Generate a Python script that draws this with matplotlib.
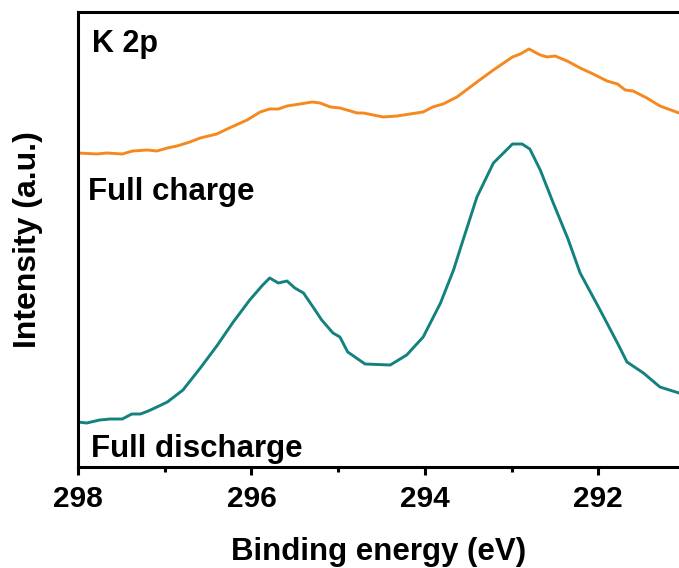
import matplotlib.pyplot as plt

plt.rcParams['font.family'] = ['Liberation Sans', 'DejaVu Sans']
plt.rcParams['font.weight'] = 'bold'

# 数据 (读自图片, 任意单位)
be_charge = [298.00, 297.78, 297.67, 297.49, 297.37, 297.20, 297.09, 296.97, 296.86, 296.71,
             296.59, 296.40, 296.28, 296.05, 295.90, 295.79, 295.69, 295.59, 295.44, 295.30,
             295.21, 295.09, 294.98, 294.78, 294.71, 294.48, 294.32, 294.02, 293.91, 293.79,
             293.63, 293.40, 293.21, 292.99, 292.90, 292.80, 292.67, 292.59, 292.50, 292.36,
             292.21, 292.06, 291.90, 291.78, 291.69, 291.60, 291.44, 291.29, 291.07]
int_charge = [314, 313, 314, 313, 316, 317, 316, 319, 321, 325,
              329, 333, 338, 347, 355, 358, 358, 361, 363, 365,
              364, 360, 359, 354, 354, 350, 351, 355, 360, 363,
              370, 385, 397, 410, 413, 418, 412, 410, 411, 406,
              399, 393, 386, 383, 377, 376, 369, 361, 354]

be_discharge = [298.00, 297.90, 297.75, 297.63, 297.49, 297.38, 297.28, 297.19, 297.09, 296.97,
                296.79, 296.59, 296.40, 296.21, 296.02, 295.87, 295.79, 295.69, 295.59, 295.50,
                295.40, 295.29, 295.19, 295.06, 294.98, 294.89, 294.69, 294.40, 294.21, 294.02,
                293.82, 293.67, 293.56, 293.40, 293.21, 292.99, 292.88, 292.79, 292.67, 292.52,
                292.35, 292.21, 291.98, 291.78, 291.67, 291.48, 291.29, 291.07]
int_discharge = [45, 44, 47, 48, 48, 53, 53, 56, 60, 65,
                 77, 99, 121, 145, 167, 182, 189, 184, 186, 179,
                 174, 160, 147, 134, 130, 115, 103, 102, 112, 130,
                 164, 197, 227, 270, 304, 323, 323, 318, 297, 264,
                 228, 194, 157, 124, 105, 94, 80, 74]

fig = plt.figure(figsize=(6.79, 5.68), dpi=100)
ax = fig.add_axes([0.1149, 0.1778, 0.8851, 0.8011])

ax.plot(be_charge, int_charge, color='#F5891F', lw=2.1)
ax.plot(be_discharge, int_discharge, color='#13827E', lw=2.1)

ax.set_xlim(298, 291.07)
ax.set_ylim(0, 455)
ax.set_xticks([298, 296, 294, 292])
ax.set_xticks([297, 295, 293], minor=True)
ax.set_yticks([])

for s in ['left', 'bottom', 'top']:
    ax.spines[s].set_linewidth(2.2)
ax.spines['right'].set_visible(False)
ax.tick_params(axis='x', which='major', direction='out', length=6, width=2.2,
               labelsize=21.5, pad=7)
ax.tick_params(axis='x', which='minor', direction='out', length=3.5, width=2.2)

ax.set_xlabel('Binding energy (eV)', fontsize=22.5, fontweight='bold', labelpad=17)
ax.set_ylabel('Intensity (a.u.)', fontsize=23, fontweight='bold', labelpad=25)

ax.text(0.023, 0.912, 'K 2p', transform=ax.transAxes, fontsize=22, fontweight='bold', va='baseline')
ax.text(0.017, 0.587, 'Full charge', transform=ax.transAxes, fontsize=22.5, fontweight='bold', va='baseline')
ax.text(0.022, 0.022, 'Full discharge', transform=ax.transAxes, fontsize=22.5, fontweight='bold', va='baseline')

plt.savefig('out.png', dpi=100)
